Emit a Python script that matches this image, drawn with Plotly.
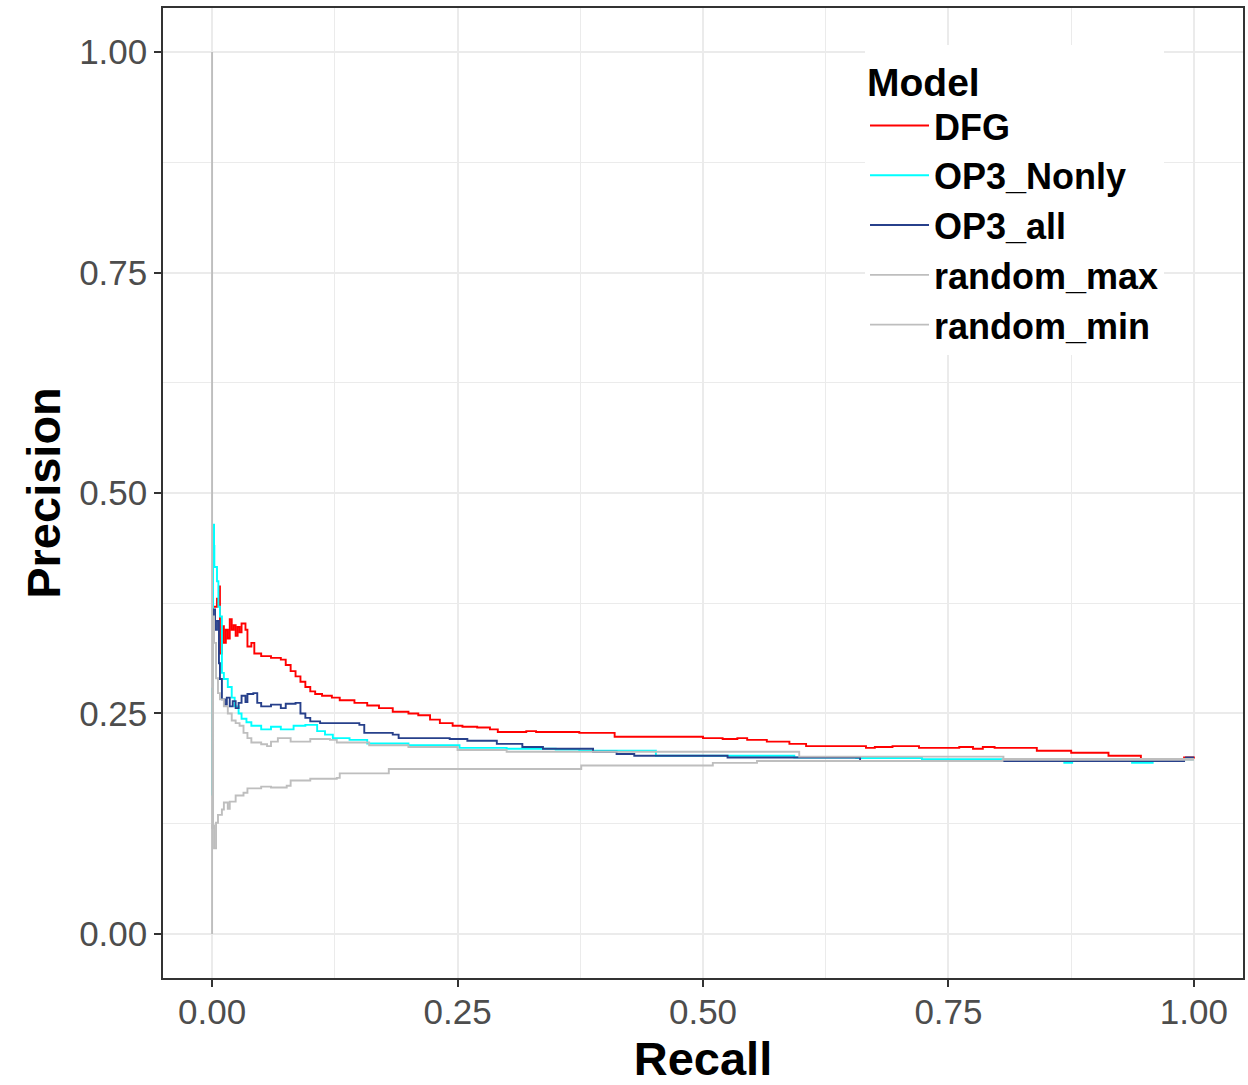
import plotly.graph_objects as go

# ---------------- data ----------------
model_names = ["DFG", "OP3_Nonly", "OP3_all", "random_max", "random_min"]
model_colors = ["#FF0000", "#00FFFF", "#27408B", "#BEBEBE", "#BEBEBE"]

dfg_recall = [0.000, 0.001, 0.005, 0.007, 0.008, 0.010, 0.012, 0.014, 0.016, 0.018,
              0.020, 0.022, 0.024, 0.026, 0.028, 0.030, 0.034, 0.036, 0.040, 0.043,
              0.050, 0.060, 0.070, 0.075, 0.080, 0.085, 0.090, 0.095, 0.100, 0.105,
              0.112, 0.122, 0.130, 0.145, 0.158, 0.170, 0.184, 0.200, 0.210, 0.222,
              0.232, 0.245, 0.255, 0.270, 0.283, 0.291, 0.320, 0.330, 0.374, 0.410,
              0.500, 0.520, 0.535, 0.545, 0.565, 0.588, 0.605, 0.666, 0.675, 0.693,
              0.720, 0.761, 0.775, 0.785, 0.797, 0.840, 0.875, 0.913, 0.946, 0.990,
              1.000]
dfg_precision = [0.360, 0.371, 0.380, 0.394, 0.318, 0.349, 0.330, 0.345, 0.335, 0.357,
                 0.345, 0.350, 0.338, 0.348, 0.342, 0.352, 0.345, 0.326, 0.330, 0.318,
                 0.315, 0.313, 0.311, 0.305, 0.298, 0.292, 0.286, 0.280, 0.275, 0.272,
                 0.270, 0.268, 0.265, 0.262, 0.259, 0.256, 0.252, 0.250, 0.248, 0.243,
                 0.239, 0.236, 0.235, 0.234, 0.232, 0.229, 0.230, 0.229, 0.228, 0.2235,
                 0.222, 0.221, 0.222, 0.220, 0.218, 0.2155, 0.213, 0.211, 0.212, 0.213,
                 0.211, 0.212, 0.210, 0.212, 0.211, 0.2077, 0.2054, 0.202, 0.1975, 0.200,
                 0.199]

nonly_recall = [0.000, 0.000, 0.001, 0.002, 0.0023, 0.005, 0.0064, 0.008, 0.010, 0.012,
                0.016, 0.020, 0.023, 0.027, 0.030, 0.035, 0.040, 0.050, 0.060, 0.070,
                0.083, 0.095, 0.107, 0.115, 0.123, 0.140, 0.158, 0.200, 0.252, 0.300,
                0.350, 0.374, 0.450, 0.452, 0.525, 0.593, 0.656, 0.723, 0.868,
                0.876, 0.937, 0.958, 1.000]
nonly_precision = [0.157, 0.278, 0.464, 0.440, 0.416, 0.400, 0.371, 0.360, 0.296, 0.289,
                   0.280, 0.268, 0.258, 0.250, 0.244, 0.240, 0.236, 0.232, 0.235, 0.232,
                   0.236, 0.237, 0.230, 0.226, 0.222, 0.220, 0.216, 0.214, 0.211, 0.210,
                   0.209, 0.2077, 0.2077, 0.202, 0.202, 0.200, 0.1995, 0.198, 0.194,
                   0.198, 0.194, 0.198, 0.198]

all_recall = [0.000, 0.001, 0.003, 0.005, 0.007, 0.008, 0.010, 0.013, 0.015, 0.018,
              0.021, 0.024, 0.027, 0.030, 0.034, 0.036, 0.042, 0.046, 0.050, 0.060,
              0.070, 0.075, 0.085, 0.090, 0.095, 0.100, 0.110, 0.150, 0.155, 0.184,
              0.190, 0.242, 0.260, 0.290, 0.316, 0.337, 0.388, 0.412, 0.430, 0.525,
              0.656, 0.660, 0.771, 0.990, 0.992, 1.000]
all_precision = [0.350, 0.368, 0.345, 0.355, 0.307, 0.289, 0.266, 0.260, 0.268, 0.258,
                 0.264, 0.256, 0.262, 0.270, 0.263, 0.272, 0.273, 0.262, 0.258, 0.260,
                 0.256, 0.261, 0.262, 0.250, 0.245, 0.241, 0.239, 0.237, 0.228, 0.226,
                 0.222, 0.221, 0.219, 0.2155, 0.212, 0.210, 0.2065, 0.204, 0.202, 0.200,
                 0.200, 0.196, 0.196, 0.1985, 0.200, 0.200]

rmax_recall = [0.000, 0.000, 0.001, 0.002, 0.004, 0.006, 0.008, 0.012, 0.016, 0.020,
               0.024, 0.028, 0.032, 0.036, 0.040, 0.050, 0.056, 0.060, 0.067, 0.080,
               0.100, 0.120, 0.127, 0.160, 0.200, 0.250, 0.300, 0.596, 0.598, 0.804,
               0.806, 1.000]
rmax_precision = [1.000, 0.120, 0.360, 0.330, 0.290, 0.273, 0.266, 0.258, 0.250, 0.242,
                  0.239, 0.236, 0.228, 0.222, 0.217, 0.215, 0.213, 0.218, 0.222, 0.218,
                  0.221, 0.220, 0.217, 0.214, 0.212, 0.2085, 0.2065, 0.2065, 0.201, 0.201,
                  0.1985, 0.1985]

rmin_recall = [0.000, 0.000, 0.002, 0.004, 0.006, 0.010, 0.012, 0.016, 0.018, 0.024,
               0.032, 0.036, 0.050, 0.060, 0.076, 0.080, 0.100, 0.127, 0.130, 0.178,
               0.180, 0.374, 0.376, 0.500, 0.510, 0.555, 0.805, 1.000]
rmin_precision = [0.000, 0.123, 0.097, 0.126, 0.135, 0.141, 0.149, 0.142, 0.150, 0.157,
                  0.160, 0.165, 0.167, 0.166, 0.168, 0.174, 0.176, 0.177, 0.182, 0.182,
                  0.187, 0.187, 0.191, 0.191, 0.194, 0.196, 0.1975, 0.1975]

x_ticks = [0, 0.25, 0.5, 0.75, 1.0]
x_tick_labels = ["0.00", "0.25", "0.50", "0.75", "1.00"]
y_ticks = [0, 0.25, 0.5, 0.75, 1.0]
y_tick_labels = ["0.00", "0.25", "0.50", "0.75", "1.00"]

series_x = [dfg_recall, nonly_recall, all_recall, rmax_recall, rmin_recall]
series_y = [dfg_precision, nonly_precision, all_precision, rmax_precision, rmin_precision]

# ---------------- figure ----------------
FONT = "Liberation Sans, Arial, sans-serif"
fig = go.Figure()
for name, color, xs, ys in zip(model_names, model_colors, series_x, series_y):
    fig.add_trace(go.Scatter(
        x=xs, y=ys, mode="lines", name=name,
        line=dict(color=color, width=1.9, shape="hv"),
    ))

axis_common = dict(
    showgrid=True, gridcolor="#EBEBEB", gridwidth=1.6,
    zeroline=False,
    showline=True, mirror=True, linecolor="#333333", linewidth=1.5,
    ticks="outside", ticklen=7, tickwidth=1.5, tickcolor="#333333",
    tickfont=dict(family=FONT, size=35, color="#4D4D4D"),
    minor=dict(tick0=0.125, dtick=0.25, showgrid=True, gridcolor="#EBEBEB",
               gridwidth=0.9, ticks=""),
)

fig.update_layout(
    width=1248, height=1085,
    paper_bgcolor="white", plot_bgcolor="white",
    margin=dict(l=163, r=3, t=8, b=103),
    xaxis=dict(range=[-0.05, 1.05], tickvals=x_ticks, ticktext=x_tick_labels,
               ticklabelstandoff=-5,
               title=dict(text="Recall", standoff=18,
                          font=dict(family=FONT, size=47, color="black", weight="bold")),
               **axis_common),
    yaxis=dict(range=[-0.05, 1.05], tickvals=y_ticks, ticktext=y_tick_labels,
               title=dict(text="Precision", standoff=4,
                          font=dict(family=FONT, size=47, color="black", weight="bold")),
               **axis_common),
    legend=dict(
        x=0.650, y=0.962, xanchor="left", yanchor="top",
        bgcolor="white", borderwidth=0,
        title=dict(text="Model", font=dict(family=FONT, size=39, color="black", weight="bold")),
        font=dict(family=FONT, size=36, color="black", weight="bold"),
        itemwidth=59, tracegroupgap=0,
    ),
    showlegend=True,
)

# remove the default page margin and clip the page to exactly 1248x1085
page_js = (
    "document.documentElement.style.overflow='hidden';"
    "document.body.style.margin='0';"
    "document.body.style.width='1248px';"
    "document.body.style.height='1085px';"
    "document.body.style.overflow='hidden';"
)
fig.write_html("out.html", config={"displayModeBar": False}, post_script=page_js)
